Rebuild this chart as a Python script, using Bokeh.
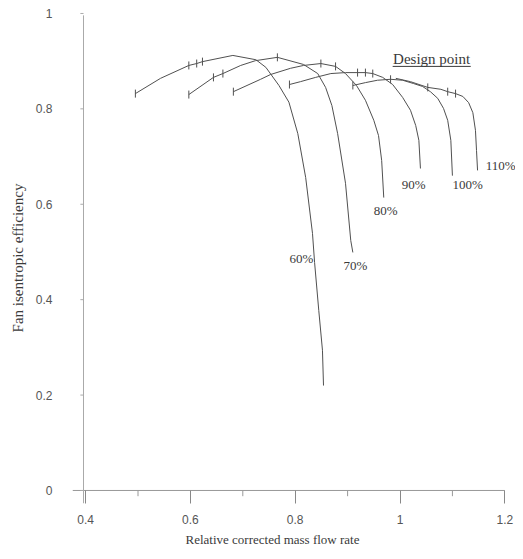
from bokeh.plotting import figure
from bokeh.models import Range1d, FixedTicker, Title
from bokeh.embed import file_html
from bokeh.resources import INLINE
from bokeh.core.properties import value
import math

# ---- data: relative corrected mass flow rate / fan isentropic efficiency per speed line ----
m60 = [0.495, 0.543, 0.597, 0.612, 0.623, 0.681, 0.725, 0.744, 0.769, 0.788, 0.805, 0.820, 0.833, 0.837, 0.845, 0.852, 0.854]
e60 = [0.832, 0.864, 0.891, 0.895, 0.899, 0.912, 0.903, 0.887, 0.849, 0.814, 0.748, 0.656, 0.539, 0.478, 0.377, 0.294, 0.220]
t60 = [0, 2, 3, 4]

m70 = [0.597, 0.644, 0.662, 0.696, 0.724, 0.766, 0.816, 0.843, 0.858, 0.870, 0.881, 0.896, 0.906, 0.910]
e70 = [0.830, 0.866, 0.874, 0.891, 0.901, 0.908, 0.893, 0.874, 0.845, 0.807, 0.748, 0.644, 0.524, 0.499]
t70 = [0, 1, 2, 5]

m80 = [0.682, 0.734, 0.753, 0.791, 0.816, 0.849, 0.877, 0.896, 0.917, 0.934, 0.950, 0.959, 0.965, 0.969]
e80 = [0.836, 0.862, 0.872, 0.885, 0.891, 0.895, 0.889, 0.874, 0.849, 0.818, 0.776, 0.744, 0.692, 0.614]
t80 = [0, 5, 6]

m90 = [0.789, 0.810, 0.839, 0.868, 0.896, 0.919, 0.934, 0.948, 0.967, 0.986, 1.005, 1.020, 1.030, 1.036, 1.039]
e90 = [0.851, 0.857, 0.866, 0.874, 0.876, 0.876, 0.876, 0.874, 0.866, 0.851, 0.824, 0.797, 0.765, 0.734, 0.675]
t90 = [0, 5, 6, 7]

m100 = [0.910, 0.934, 0.957, 0.982, 1.005, 1.026, 1.043, 1.058, 1.072, 1.083, 1.091, 1.097, 1.100]
e100 = [0.849, 0.855, 0.860, 0.862, 0.860, 0.853, 0.847, 0.836, 0.822, 0.801, 0.776, 0.734, 0.660]
t100 = [0, 3]

m110 = [0.992, 1.020, 1.053, 1.078, 1.091, 1.106, 1.120, 1.131, 1.139, 1.144, 1.146, 1.148]
e110 = [0.864, 0.857, 0.845, 0.841, 0.836, 0.832, 0.826, 0.813, 0.792, 0.755, 0.713, 0.671]
t110 = [2, 4, 5]

speed_labels = ["60%", "70%", "80%", "90%", "100%", "110%"]
label_m = [0.812, 0.915, 0.9725, 1.026, 1.129, 1.192]
label_e = [0.486, 0.472, 0.587, 0.6415, 0.6415, 0.681]

design_text = "Design point"
design_m = 1.0603
design_e = 0.9036
design_underline_m = [0.986, 1.135]
design_underline_e = 0.889

x_ticks = [0.4, 0.6, 0.8, 1.0, 1.2]
x_minor = [0.5, 0.7, 0.9, 1.1]
y_ticks = [0, 0.2, 0.4, 0.6, 0.8, 1.0]

x_title = "Relative corrected mass flow rate"
y_title = "Fan isentropic efficiency"

# ---- figure ----
LINE = "#505050"
TXT = "#3a3a3a"

p = figure(width=515, height=551, output_backend="svg", toolbar_location=None,
           x_range=Range1d(0.375, 1.2204), y_range=Range1d(-0.0273, 1.002),
           min_border_left=72, min_border_right=0, min_border_top=12, min_border_bottom=48)
p.title.visible = False
p.outline_line_color = None
p.grid.visible = False
p.background_fill_color = "white"
p.border_fill_color = "white"

p.xaxis.ticker = FixedTicker(ticks=x_ticks)
p.xaxis.major_label_overrides = {0.4: "0.4", 0.6: "0.6", 0.8: "0.8", 1: "1", 1.2: "1.2"}
p.xaxis.axis_line_color = None
p.xaxis.major_tick_in = 13
p.xaxis.major_tick_out = 0
p.xaxis.major_tick_line_color = "#888888"
p.xaxis.minor_tick_line_color = None
p.xaxis.major_label_standoff = 11
p.xaxis.major_label_text_font = "Liberation Sans"
p.xaxis.major_label_text_font_size = "12px"
p.xaxis.major_label_text_color = "#555555"

p.yaxis.ticker = FixedTicker(ticks=y_ticks)
p.yaxis.major_label_overrides = {0: "0", 0.2: "0.2", 0.4: "0.4", 0.6: "0.6", 0.8: "0.8", 1: "1"}
p.yaxis.axis_line_color = None
p.yaxis.major_tick_line_color = None
p.yaxis.minor_tick_line_color = None
p.yaxis.major_label_standoff = 14
p.yaxis.major_label_text_font = "Liberation Sans"
p.yaxis.major_label_text_font_size = "12px"
p.yaxis.major_label_text_color = "#555555"
p.yaxis.axis_label = y_title
p.yaxis.axis_label_standoff = 7
p.yaxis.axis_label_text_font = "Liberation Serif"
p.yaxis.axis_label_text_font_size = "15px"
p.yaxis.axis_label_text_font_style = "normal"
p.yaxis.axis_label_text_color = TXT

p.add_layout(Title(text=x_title, align="left", offset=113, vertical_align="bottom", standoff=6,
                   text_font="Liberation Serif", text_font_size="13px",
                   text_font_style="normal", text_color=TXT), "below")

# axis lines (crossing at 0.4 / 0)
p.segment(x0=[0.375], y0=[0], x1=[x_ticks[-1]], y1=[0], line_color="#999999", line_width=1)
p.segment(x0=[0.396], y0=[-0.0273], x1=[0.396], y1=[0.996], line_color="#aaaaaa", line_width=1)
# minor x ticks and tiny y ticks
p.segment(x0=x_minor, y0=[0] * len(x_minor), x1=x_minor, y1=[-0.012] * len(x_minor),
          line_color="#999999", line_width=1)
p.segment(x0=[0.390] * len(y_ticks), y0=y_ticks, x1=[0.396] * len(y_ticks), y1=y_ticks,
          line_color="#aaaaaa", line_width=1)

series = [(m60, e60, t60), (m70, e70, t70), (m80, e80, t80),
          (m90, e90, t90), (m100, e100, t100), (m110, e110, t110)]
for ms, es, ts in series:
    p.line(ms, es, line_color=LINE, line_width=1)
    p.scatter([ms[i] for i in ts], [es[i] for i in ts], marker="dash", angle=math.pi / 2,
              size=8, line_color=LINE, line_width=1)

p.text(x=label_m, y=label_e, text=speed_labels, text_font=value("Liberation Serif"),
       text_font_size="13px", text_color=TXT, text_align="center", text_baseline="middle")
p.text(x=[design_m], y=[design_e], text=[design_text], text_font=value("Liberation Serif"),
       text_font_size="15px", text_color=TXT, text_align="center", text_baseline="middle")
p.segment(x0=[design_underline_m[0]], y0=[design_underline_e], x1=[design_underline_m[1]],
          y1=[design_underline_e], line_color=TXT, line_width=1)

open("out.html", "w").write(file_html(p, INLINE))
